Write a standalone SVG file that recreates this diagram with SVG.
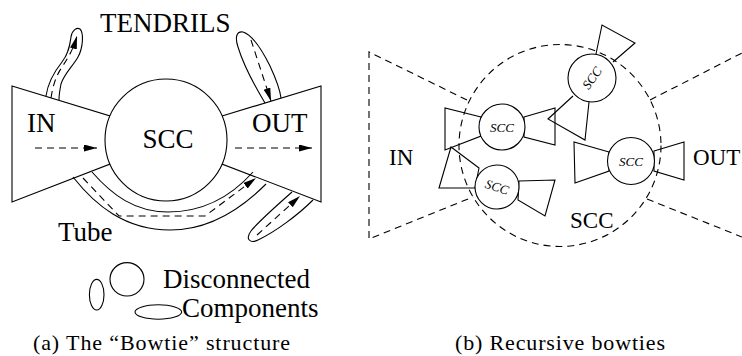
<svg xmlns="http://www.w3.org/2000/svg" width="742" height="356" viewBox="0 0 742 356">
<style>
.ln{fill:none;stroke:#000;stroke-width:1.1}
.sh{fill:#fff;stroke:#000;stroke-width:1.1}
.ds{fill:none;stroke:#000;stroke-width:1.1;stroke-dasharray:7 5}
.t{font-family:"Liberation Serif","Times New Roman",serif;fill:#000}
.big{font-size:27px}
.mid{font-size:23px}
.sm{font-size:13px;font-style:italic}
.cap{font-size:22px}
</style>
<defs>
<marker id="ah" markerUnits="userSpaceOnUse" markerWidth="14" markerHeight="8" refX="13" refY="3.5" orient="auto">
<path d="M0,0 L13,3.5 L0,7 z" fill="#000" stroke="none"/>
</marker>
</defs>
<rect width="742" height="356" fill="#fff"/>

<!-- Panel (a) -->
<g id="a-in">
<polygon class="sh" points="12,86 110,116 110,164 12,202"/>
<text class="t big" x="27" y="132">IN</text>
</g>
<g id="a-out">
<polygon class="sh" points="222,116 321,86 321,202 222,164"/>
<text class="t big" x="252" y="132">OUT</text>
</g>
<g id="a-scc">
<circle class="sh" cx="166" cy="140" r="61"/>
<text class="t big" x="168" y="148" text-anchor="middle">SCC</text>
</g>
<g id="a-tendrils">
<text class="t big" x="100" y="32">TENDRILS</text>
<path class="ln" d="M46,96 C48,82 54,72 62,62 C69,53 70,44 71,37 C72,30 77,27 80,29 C84,33 83,48 78,57 C73,66 64,74 61,84 C60,89 59,94 59,100"/>
<path class="ln" d="M265,103 C256,88 244,67 238,47 C235,38 236,31 243,32 C253,35 262,50 270,66 C276,79 280,90 281,98"/>
<path class="ln" d="M292,192 C275,207 258,222 251,231 C245,239 250,244 258,240 C275,232 298,215 313,200"/>
</g>
<g id="a-tube">
<path class="ln" d="M92,172 C112,195 135,212 168,212 C200,212 228,200 253,172"/>
<path class="ln" d="M73,177 C95,205 125,230 170,230 C205,230 237,213 266,184"/>
<text class="t big" x="58" y="241">Tube</text>
</g>
<g id="a-disconnected">
<ellipse class="ln" cx="96.7" cy="294.7" rx="7.3" ry="15.3"/>
<ellipse class="ln" cx="127" cy="279.3" rx="17" ry="16.7"/>
<ellipse class="ln" cx="158.3" cy="312" rx="23.3" ry="7.2"/>
<text class="t big" x="163" y="288">Disconnected</text>
<text class="t big" x="182" y="317">Components</text>
</g>
<g id="connectors">
<path class="ds" d="M35,148 L97,148" marker-end="url(#ah)"/>
<path class="ds" d="M235,148 L312,148" marker-end="url(#ah)"/>
<path class="ds" d="M51,98 C53,85 56,76 62,67 C68,58 73,50 77,36" marker-end="url(#ah)"/>
<path class="ds" d="M251,40 L271,101" marker-end="url(#ah)"/>
<path class="ds" d="M83,178 L119,216 L205,216 L256,178" marker-end="url(#ah)"/>
<path class="ds" d="M257,235 L300,196" marker-end="url(#ah)"/>
</g>
<text class="t cap" x="33" y="350" textLength="257" lengthAdjust="spacing">(a) The “Bowtie” structure</text>

<!-- Panel (b) -->
<g id="b-big">
<circle class="ds" cx="560" cy="145.5" r="101"/>
<path class="ds" d="M467,100 L369,52 L369,239 L473,197"/>
<path class="ds" d="M650,100 L742,53"/>
<path class="ds" d="M647,199 L742,237"/>
<text class="t mid" x="389" y="165">IN</text>
<text class="t mid" x="693" y="165">OUT</text>
<text class="t mid" x="570" y="228">SCC</text>
</g>
<g id="b-bowtie-a">
<polygon class="ln" points="481,117 445,108 445,150 481,136"/>
<polygon class="ln" points="524,117 555,108 555,145 524,137"/>
<circle class="sh" cx="502" cy="127" r="23"/>
<text class="t sm" x="502" y="131.5" text-anchor="middle">SCC</text>
</g>
<g id="b-bowtie-b">
<polygon class="ln" points="479,168 451,147 439,188 475,188"/>
<polygon class="ln" points="519,181 555,180 545,216 518,200"/>
<circle class="sh" cx="497" cy="187" r="22"/>
<text class="t sm" x="497" y="191.5" text-anchor="middle" transform="rotate(18 497 187)">SCC</text>
</g>
<g id="b-bowtie-c">
<polyline class="ln" points="596,54 602,25 635,43 613,62"/>
<polyline class="ln" points="573,96 548,119 585,140 589,102"/>
<circle class="sh" cx="592" cy="78" r="24"/>
<text class="t sm" x="592" y="82.5" text-anchor="middle" transform="rotate(-55 592 78)">SCC</text>
</g>
<g id="b-bowtie-d">
<polygon class="ln" points="609,152 574,142 575,183 609,171"/>
<polygon class="ln" points="654,151 684,142 684,180 654,171"/>
<circle class="sh" cx="631" cy="161" r="23.5"/>
<text class="t sm" x="631" y="165.5" text-anchor="middle">SCC</text>
</g>
<text class="t cap" x="455" y="350" textLength="210" lengthAdjust="spacing">(b) Recursive bowties</text>
</svg>
